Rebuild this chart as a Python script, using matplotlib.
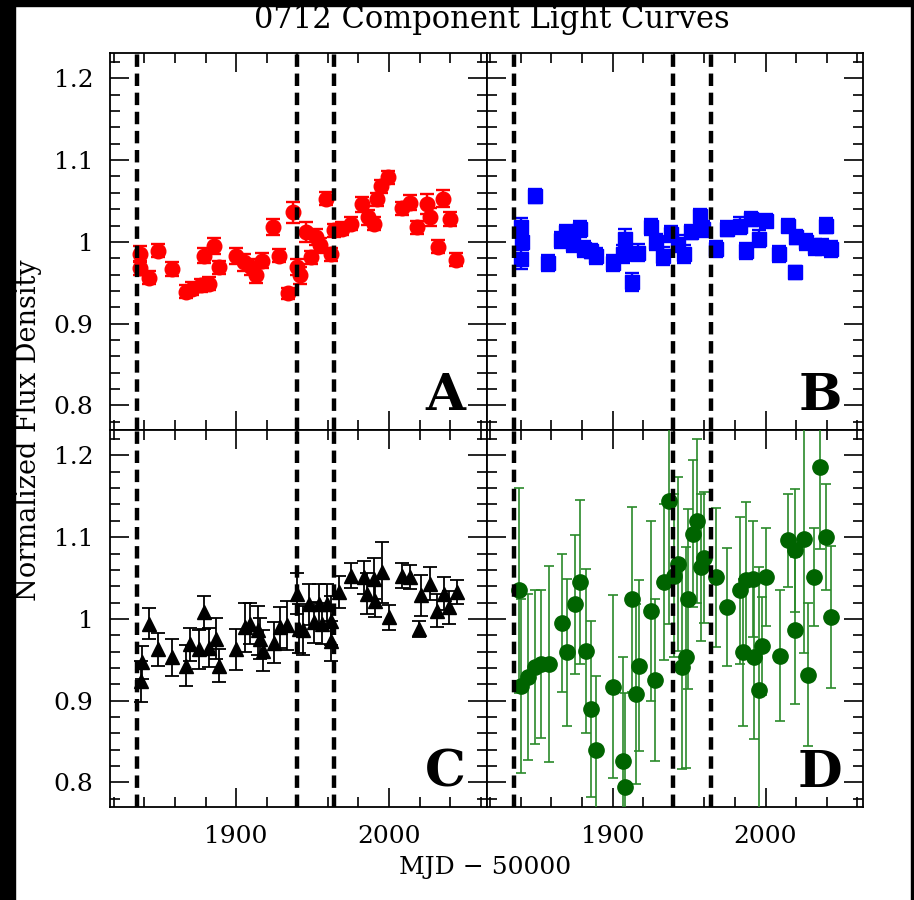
import numpy as np
import matplotlib
matplotlib.use("Agg")
import matplotlib.pyplot as plt
from matplotlib.patches import Rectangle
from matplotlib.ticker import MultipleLocator, FuncFormatter

plt.rcParams['font.family'] = ['DejaVu Serif']

# epochs of the vertical dashed markers (MJD - 50000)
event_mjd = [1835.5, 1939.6, 1964.3]

# component A (red circles)
a_mjd = [1837, 1837, 1843, 1849, 1858, 1867, 1871, 1877, 1882, 1879, 1885.5, 1889,
         1900, 1905, 1909.5, 1913, 1917, 1924, 1928, 1934, 1937, 1940, 1942, 1945.5,
         1949, 1952, 1955, 1958.5, 1962, 1964, 1969, 1975, 1982.5, 1986, 1990, 1992,
         1994.5, 1999, 2008.6, 2014, 2018.5, 2025, 2027, 2032, 2035.5, 2040, 2043.5]
a_flux = [0.985, 0.968, 0.956, 0.989, 0.967, 0.939, 0.943, 0.947, 0.949, 0.983, 0.995, 0.969,
          0.983, 0.975, 0.969, 0.959, 0.977, 1.018, 0.983, 0.937, 1.036, 0.969, 0.959, 1.012,
          0.981, 1.006, 0.996, 1.053, 0.985, 1.014, 1.016, 1.022, 1.046, 1.030, 1.022, 1.052,
          1.068, 1.079, 1.041, 1.048, 1.018, 1.046, 1.030, 0.994, 1.053, 1.028, 0.978]
a_err = [0.010, 0.009, 0.008, 0.008, 0.009, 0.008, 0.008, 0.008, 0.008, 0.009, 0.010, 0.008,
         0.010, 0.010, 0.010, 0.009, 0.009, 0.010, 0.008, 0.007, 0.013, 0.010, 0.010, 0.012,
         0.008, 0.010, 0.009, 0.008, 0.008, 0.008, 0.008, 0.008, 0.009, 0.009, 0.008, 0.008,
         0.008, 0.008, 0.008, 0.009, 0.008, 0.012, 0.011, 0.008, 0.010, 0.008, 0.008]

# component B (blue squares)
b_mjd = [1840, 1841, 1840, 1849, 1858, 1866, 1869.6, 1874, 1879, 1881.6, 1886, 1889,
         1900, 1908, 1907, 1913, 1916.5, 1925, 1928.5, 1933, 1938, 1942.6, 1947, 1951,
         1957, 1959, 1967.7, 1975, 1983, 1987, 1990.5, 1996, 2000, 2009, 2014.5, 2019,
         2020, 2026.5, 2032, 2036.6, 2039.6, 2043]
b_flux = [1.018, 1.000, 0.979, 1.056, 0.974, 1.002, 1.012, 0.998, 1.016, 0.991, 0.989, 0.983,
          0.974, 1.004, 0.985, 0.951, 0.987, 1.018, 1.000, 0.983, 1.010, 0.998, 0.985, 1.012,
          1.032, 1.016, 0.991, 1.016, 1.020, 0.989, 1.028, 1.004, 1.026, 0.985, 1.020, 0.963,
          1.006, 1.000, 0.994, 0.994, 1.020, 0.991]
b_err = [0.011, 0.010, 0.012, 0.009, 0.010, 0.010, 0.009, 0.010, 0.010, 0.010, 0.009, 0.010,
         0.010, 0.012, 0.011, 0.011, 0.010, 0.010, 0.010, 0.011, 0.010, 0.010, 0.011, 0.009,
         0.008, 0.010, 0.010, 0.009, 0.010, 0.010, 0.008, 0.010, 0.008, 0.010, 0.008, 0.008,
         0.009, 0.010, 0.010, 0.010, 0.009, 0.010]

# component C (black triangles)
c_mjd = [1838.7, 1837.6, 1843, 1849, 1858, 1867, 1870, 1876, 1879, 1882, 1886.6, 1889,
         1900, 1905.6, 1909, 1914, 1915.6, 1917.6, 1925, 1929, 1933.5, 1940, 1941, 1944,
         1947.6, 1950.6, 1954, 1956, 1959.6, 1961.8, 1961.8, 1967, 1975, 1983.6, 1985.8, 1990,
         1991, 1995.6, 1999.8, 2008.6, 2014, 2019.5, 2020.6, 2027, 2031.5, 2036, 2039, 2044.6]
c_flux = [0.947, 0.924, 0.994, 0.963, 0.953, 0.943, 0.969, 0.963, 1.008, 0.965, 0.976, 0.943,
          0.963, 0.990, 0.994, 0.986, 0.976, 0.961, 0.971, 0.990, 0.992, 1.031, 0.988, 0.986,
          1.018, 0.996, 1.018, 0.994, 1.018, 0.998, 0.973, 1.033, 1.053, 1.051, 1.031, 1.049,
          1.022, 1.057, 1.002, 1.053, 1.051, 0.988, 1.029, 1.043, 1.010, 1.031, 1.014, 1.033]
c_err = [0.020, 0.025, 0.019, 0.020, 0.023, 0.025, 0.020, 0.024, 0.020, 0.024, 0.025, 0.020,
         0.025, 0.030, 0.025, 0.030, 0.025, 0.025, 0.025, 0.025, 0.030, 0.025, 0.030, 0.030,
         0.025, 0.025, 0.025, 0.025, 0.025, 0.030, 0.025, 0.020, 0.015, 0.020, 0.025, 0.025,
         0.020, 0.037, 0.015, 0.015, 0.015, 0.010, 0.025, 0.020, 0.020, 0.020, 0.020, 0.015]

# component D (green circles)
d_mjd = [1839, 1840, 1844.6, 1849, 1853, 1858.7, 1867, 1870, 1875.5, 1879, 1882.7, 1886,
         1889, 1900, 1906.7, 1908, 1913, 1915, 1917.6, 1925, 1927.8, 1933.5, 1937, 1942.6,
         1940.4, 1945.7, 1948, 1949, 1952.4, 1955, 1957.9, 1960, 1967.7, 1975, 1983.6, 1985,
         1987, 1991.7, 1992.7, 1996, 1998, 2000, 2009.7, 2014.5, 2019, 2019, 2025, 2027.6,
         2031.5, 2035.8, 2039.4, 2043]
d_flux = [1.035, 0.918, 0.929, 0.941, 0.945, 0.945, 0.995, 0.959, 1.018, 1.045, 0.961, 0.890,
          0.840, 0.917, 0.826, 0.795, 1.024, 0.908, 0.943, 1.010, 0.925, 1.045, 1.144, 1.067,
          1.053, 0.941, 0.953, 1.024, 1.104, 1.120, 1.063, 1.075, 1.051, 1.015, 1.035, 0.959,
          1.047, 1.049, 0.953, 0.913, 0.967, 1.051, 0.955, 1.096, 1.084, 0.986, 1.098, 0.932,
          1.051, 1.186, 1.100, 1.002]
d_err = [0.125, 0.106, 0.102, 0.094, 0.090, 0.120, 0.084, 0.090, 0.085, 0.100, 0.100, 0.108,
         0.090, 0.112, 0.127, 0.115, 0.113, 0.110, 0.105, 0.110, 0.099, 0.095, 0.150, 0.106,
         0.100, 0.125, 0.135, 0.110, 0.090, 0.100, 0.090, 0.080, 0.085, 0.072, 0.090, 0.090,
         0.096, 0.071, 0.100, 0.150, 0.060, 0.060, 0.080, 0.057, 0.075, 0.090, 0.140, 0.087,
         0.060, 0.100, 0.065, 0.087]

panels = [
    ('A', a_mjd, a_flux, a_err, 'o', 'red', 'red', 10.5, 1.7, 4.8),
    ('B', b_mjd, b_flux, b_err, 's', 'blue', 'blue', 10, 1.7, 4.8),
    ('C', c_mjd, c_flux, c_err, '^', 'black', 'black', 10.5, 1.3, 4.8),
    ('D', d_mjd, d_flux, d_err, 'o', '#006400', '#2a8a2a', 11, 1.2, 3.8),
]

fig, axes = plt.subplots(2, 2, figsize=(9.14, 9.0), dpi=100, sharex=True, sharey=True)
fig.subplots_adjust(left=0.1204, right=0.9442, bottom=0.1033, top=0.9411,
                    wspace=0, hspace=0)

fmt = FuncFormatter(lambda v, p: f"{v:g}")

for ax, (name, x, y, e, mk, mcol, ecol, ms, elw, cs) in zip(axes.flat, panels):
    ax.errorbar(x, y, yerr=e, fmt=mk, color=mcol, ecolor=ecol, ms=ms,
                mec=mcol, elinewidth=elw, capsize=cs, capthick=elw, zorder=3)
    for t in event_mjd:
        ax.axvline(t, color='black', lw=3.2, ls=(0, (2.8, 1.5)), zorder=5)
    ax.text(0.945, 0.024, name, transform=ax.transAxes, ha='right', va='bottom',
            fontsize=37, fontweight='bold', zorder=6)
    ax.set_xlim(1817.6, 2063.7)
    ax.set_ylim(0.770, 1.231)
    ax.xaxis.set_major_locator(MultipleLocator(100))
    ax.xaxis.set_minor_locator(MultipleLocator(20))
    ax.yaxis.set_major_locator(MultipleLocator(0.1))
    ax.yaxis.set_minor_locator(MultipleLocator(0.02))
    ax.yaxis.set_major_formatter(fmt)
    ax.tick_params(which='both', direction='in', top=True, right=True, width=1.2,
                   labelsize=18)
    ax.tick_params(which='major', length=14)
    ax.tick_params(which='minor', length=7.5)
    ax.tick_params(axis='y', pad=12)
    ax.tick_params(axis='x', pad=13)
    for s in ax.spines.values():
        s.set_linewidth(1.3)

fig.text(0.538, 0.969, '0712 Component Light Curves', ha='center', va='baseline',
         fontsize=22)
fig.text(0.531, 0.036, 'MJD \u2212 50000', ha='center', va='center', fontsize=18)
fig.text(0.031, 0.522, 'Normalized Flux Density', ha='center', va='center',
         rotation=90, fontsize=19.5)

# black frame on the left, top and right edges
for rect in [(0, 0, 15 / 914, 1), (0, 1 - 6 / 900, 1, 6 / 900), (911 / 914, 0, 3 / 914, 1)]:
    fig.patches.append(Rectangle(rect[:2], rect[2], rect[3], transform=fig.transFigure,
                                 color='black', zorder=10))

fig.savefig('out.png', dpi=100)
